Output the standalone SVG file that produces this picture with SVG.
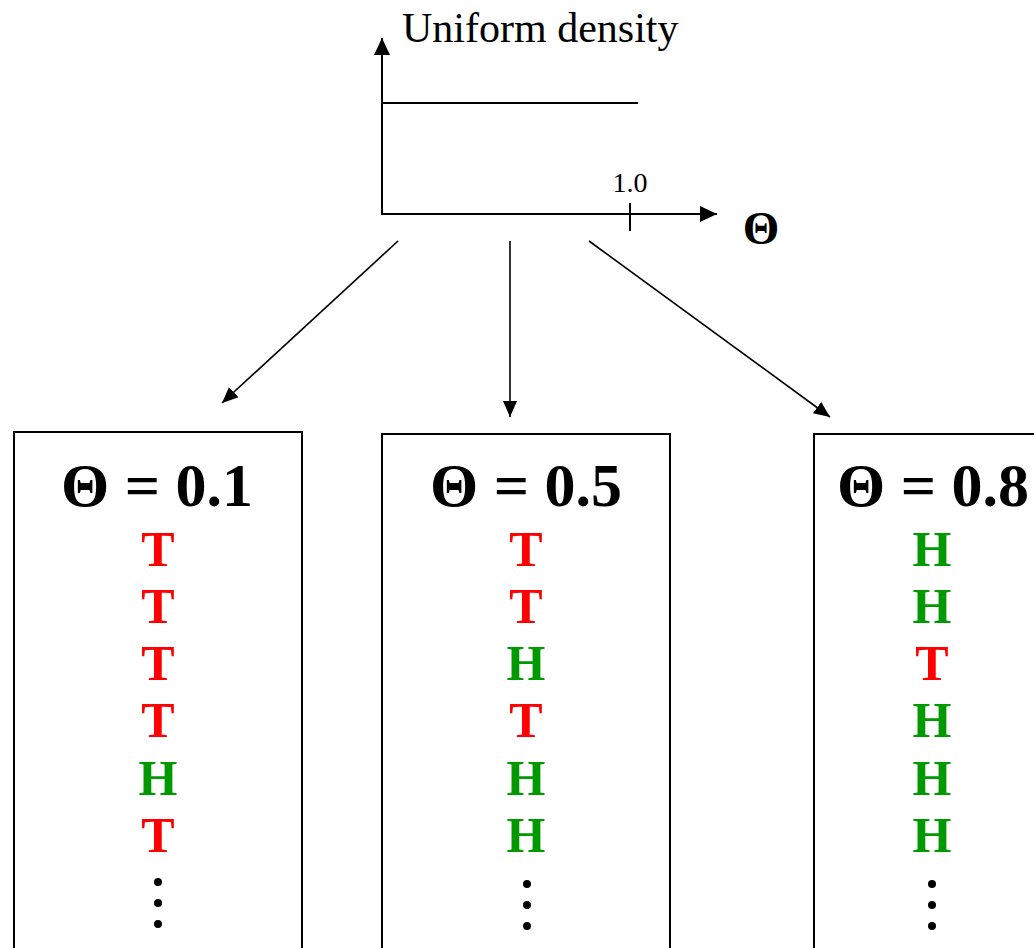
<svg xmlns="http://www.w3.org/2000/svg" width="1034" height="948" viewBox="0 0 1034 948">
  <style>
    .axis { stroke: #000; stroke-width: 2; fill: none; }
    .edge { stroke: #000; stroke-width: 1.6; fill: none; }
    .box { stroke: #000; stroke-width: 2; fill: #fff; }
    .serif { font-family: "Liberation Serif", "Times New Roman", serif; }
    .head { font-family: "Liberation Serif", "Times New Roman", serif; font-weight: bold; font-size: 62px; text-anchor: middle; fill: #000; }
    .flip { font-family: "Liberation Serif", "Times New Roman", serif; font-weight: bold; font-size: 50px; text-anchor: middle; }
    .t { fill: #ff0000; }
    .h { fill: #009900; }
    .dot { fill: #000; }
  </style>
  <defs>
    <marker id="axisHead" markerUnits="userSpaceOnUse" markerWidth="20" markerHeight="18" refX="17" refY="8" orient="auto">
      <path d="M0,0 L17,8 L0,16 Z" fill="#000"/>
    </marker>
    <marker id="edgeHead" markerUnits="userSpaceOnUse" markerWidth="18" markerHeight="16" refX="16" refY="7" orient="auto">
      <path d="M0,0 L16,7 L0,14 Z" fill="#000"/>
    </marker>
  </defs>

  <!-- prior density plot -->
  <g id="prior">
    <line class="axis" x1="382" y1="214" x2="382" y2="38" marker-end="url(#axisHead)"/>
    <line class="axis" x1="381" y1="214" x2="717" y2="214" marker-end="url(#axisHead)"/>
    <line class="axis" x1="382" y1="103" x2="638" y2="103"/>
    <line class="axis" x1="630" y1="203" x2="630" y2="231"/>
    <text class="serif" x="402" y="42" font-size="42">Uniform density</text>
    <text class="serif" x="630" y="192" font-size="28" text-anchor="middle">1.0</text>
    <text class="serif" x="761" y="244" font-size="47" font-weight="bold" text-anchor="middle">Θ</text>
  </g>

  <!-- connectors -->
  <g id="connectors">
    <line class="edge" x1="398" y1="241" x2="222" y2="403" marker-end="url(#edgeHead)"/>
    <line class="edge" x1="510" y1="241" x2="510" y2="417" marker-end="url(#edgeHead)"/>
    <line class="edge" x1="589" y1="241" x2="830" y2="417" marker-end="url(#edgeHead)"/>
  </g>

  <!-- theta = 0.1 -->
  <g id="box-01">
    <rect class="box" x="14" y="432" width="288" height="530"/>
    <text class="head" x="157" y="506">Θ = 0.1</text>
    <text class="flip t" x="158" y="566">T</text>
    <text class="flip t" x="158" y="623">T</text>
    <text class="flip t" x="158" y="680">T</text>
    <text class="flip t" x="158" y="737">T</text>
    <text class="flip h" x="158" y="795">H</text>
    <text class="flip t" x="158" y="852">T</text>
    <circle class="dot" cx="158" cy="882" r="4"/>
    <circle class="dot" cx="158" cy="903" r="4"/>
    <circle class="dot" cx="158" cy="924" r="4"/>
  </g>

  <!-- theta = 0.5 -->
  <g id="box-05">
    <rect class="box" x="382" y="434" width="288" height="530"/>
    <text class="head" x="526" y="506">Θ = 0.5</text>
    <text class="flip t" x="526" y="566">T</text>
    <text class="flip t" x="526" y="623">T</text>
    <text class="flip h" x="526" y="680">H</text>
    <text class="flip t" x="526" y="737">T</text>
    <text class="flip h" x="526" y="795">H</text>
    <text class="flip h" x="526" y="852">H</text>
    <circle class="dot" cx="527" cy="884" r="4"/>
    <circle class="dot" cx="527" cy="905" r="4"/>
    <circle class="dot" cx="527" cy="926" r="4"/>
  </g>

  <!-- theta = 0.8 -->
  <g id="box-08">
    <rect class="box" x="814" y="434" width="288" height="530"/>
    <text class="head" x="933" y="506">Θ = 0.8</text>
    <text class="flip h" x="932" y="566">H</text>
    <text class="flip h" x="932" y="623">H</text>
    <text class="flip t" x="932" y="680">T</text>
    <text class="flip h" x="932" y="737">H</text>
    <text class="flip h" x="932" y="795">H</text>
    <text class="flip h" x="932" y="852">H</text>
    <circle class="dot" cx="932" cy="884" r="4"/>
    <circle class="dot" cx="932" cy="905" r="4"/>
    <circle class="dot" cx="932" cy="926" r="4"/>
  </g>
</svg>
